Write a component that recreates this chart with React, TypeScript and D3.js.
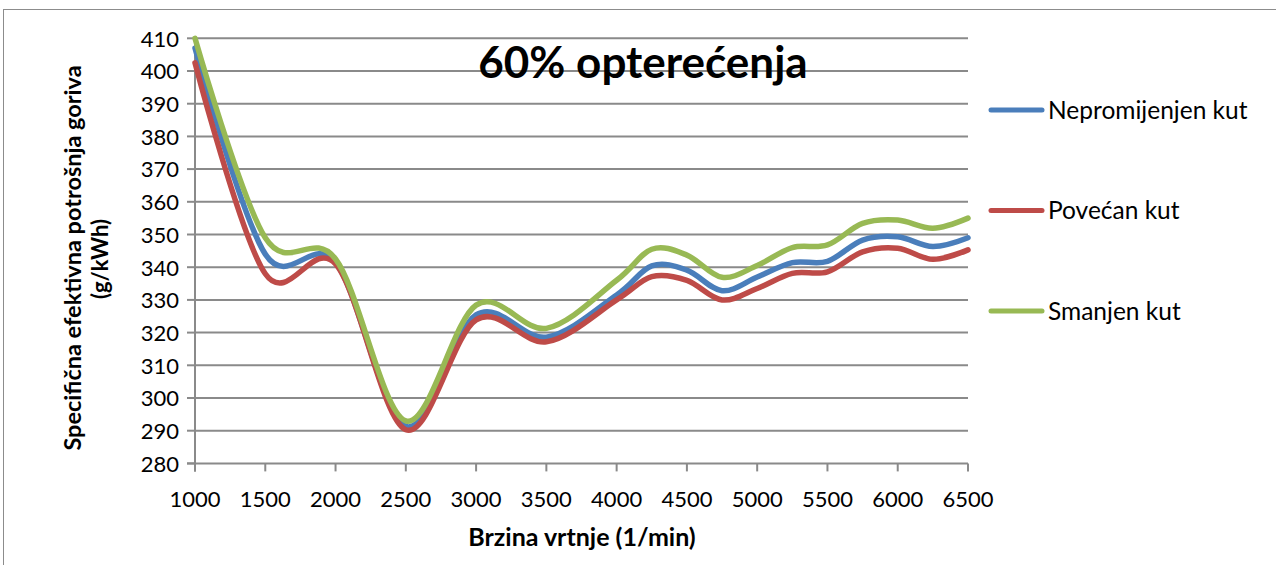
import React from 'react'
import * as d3 from 'd3'

// rpm points (1/min)
const rpm = [1000, 1500, 2000, 2500, 3000, 3500, 4000, 4250, 4500, 4750, 5000, 5250, 5500, 5750, 6000, 6250, 6500]

// specific fuel consumption (g/kWh)
const nepromijenjen = [407, 344, 341.5, 291.3, 325.4, 318.6, 331.5, 340.4, 339.1, 332.8, 337, 341.4, 341.8, 348.3, 349.3, 346.3, 349]
const povecan = [402.5, 338, 341, 290.3, 323.9, 317.2, 330, 337.1, 336, 330, 333.5, 338.1, 338.6, 344.7, 345.8, 342.4, 345.3]
const smanjen = [410, 349, 342.5, 293, 328.4, 321.3, 336, 345.5, 343.7, 336.9, 340.5, 346, 346.8, 353.4, 354.4, 351.9, 355]

const seriesNames = ['Nepromijenjen kut', 'Povećan kut', 'Smanjen kut']
const xTicks = [1000, 1500, 2000, 2500, 3000, 3500, 4000, 4500, 5000, 5500, 6000, 6500]
const yTicks = [280, 290, 300, 310, 320, 330, 340, 350, 360, 370, 380, 390, 400, 410]

const title = '60% opterećenja'
const xTitle = 'Brzina vrtnje (1/min)'
const yTitle1 = 'Specifična efektivna potrošnja goriva'
const yTitle2 = '(g/kWh)'

const W = 1276
const H = 565
const colors = ['#4A7EBB', '#BE4B48', '#98B954']
const grid = '#8A8A8A'
const font = 'Lato, "Open Sans", sans-serif'

export default function App() {
  const x = d3.scaleLinear().domain([1000, 6500]).range([195, 968])
  const y = d3.scaleLinear().domain([280, 410]).range([463.4, 38.3])

  const line = d3.line<number>()
    .x((_, i) => x(rpm[i]))
    .y((d) => y(d))
    .curve(d3.curveCardinal.tension(0))

  const series = [nepromijenjen, povecan, smanjen]
  const y0 = y(280)

  return (
    <div style={{ position: 'fixed', left: 0, top: 0 }}>
      <svg width={W} height={H} style={{ display: 'block', background: '#fff' }} fontFamily={font}>
        <rect x={3.5} y={9.5} width={W} height={H} fill="#fff" stroke="#8C8C8C" strokeWidth={1} />

        {/* gridlines */}
        {yTicks.slice(1).map((t) => (
          <line key={t} x1={x(1000)} x2={x(6500)} y1={y(t)} y2={y(t)} stroke={grid} strokeWidth={2} />
        ))}

        {/* axes */}
        <line x1={x(1000)} x2={x(1000)} y1={y(410)} y2={y0 + 8} stroke={grid} strokeWidth={2} />
        <line x1={x(1000) - 8} x2={x(6500)} y1={y0} y2={y0} stroke={grid} strokeWidth={2} />
        {yTicks.map((t) => (
          <g key={t}>
            <line x1={x(1000) - 8} x2={x(1000)} y1={y(t)} y2={y(t)} stroke={grid} strokeWidth={2} />
            <text x={179} y={y(t)} dy="0.38em" textAnchor="end" fontSize={22} fill="#000">{t}</text>
          </g>
        ))}
        {xTicks.map((t) => (
          <g key={t}>
            <line x1={x(t)} x2={x(t)} y1={y0} y2={y0 + 8} stroke={grid} strokeWidth={2} />
            <text x={x(t)} y={507} textAnchor="middle" fontSize={22} fill="#000">{t}</text>
          </g>
        ))}

        {/* series */}
        {series.map((s, i) => (
          <path key={i} d={line(s) || ''} fill="none" stroke={colors[i]} strokeWidth={5.5} strokeLinejoin="round" strokeLinecap="round" />
        ))}

        {/* title */}
        <text x={643} y={78} textAnchor="middle" fontSize={44} fontWeight="bold" fill="#000">{title}</text>

        {/* axis titles */}
        <text x={582} y={546} textAnchor="middle" fontSize={25} fontWeight="bold" fill="#000">{xTitle}</text>
        <g transform="translate(81,258) rotate(-90)">
          <text x={0} y={0} textAnchor="middle" fontSize={23.5} fontWeight="bold" fill="#000">{yTitle1}</text>
        </g>
        <g transform="translate(108,259) rotate(-90)">
          <text x={0} y={0} textAnchor="middle" fontSize={22} fontWeight="bold" fill="#000">{yTitle2}</text>
        </g>

        {/* legend */}
        {seriesNames.map((n, i) => (
          <g key={n} transform={`translate(0,${110 + i * 100.5})`}>
            <line x1={991} x2={1042} y1={0} y2={0} stroke={colors[i]} strokeWidth={5} strokeLinecap="round" />
            <text x={1048} y={0} dy="0.36em" fontSize={24.5} fill="#000">{n}</text>
          </g>
        ))}
      </svg>
    </div>
  )
}
